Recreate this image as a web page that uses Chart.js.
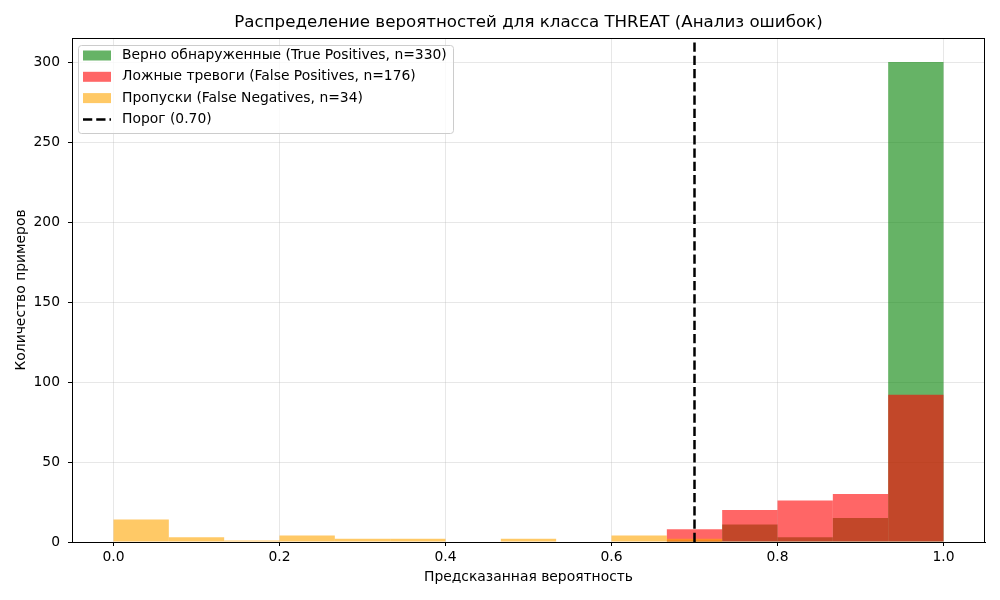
<!DOCTYPE html>
<html>
<head>
<meta charset="utf-8">
<script src="https://cdn.jsdelivr.net/npm/chart.js@4/dist/chart.umd.min.js"></script>
<style>
  html, body { margin: 0; padding: 0; background: #fff; }
  canvas { display: block; }
</style>
</head>
<body>
<canvas id="histChart" width="1000" height="600"></canvas>
<script>
// --- данные гистограммы (15 бинов от 0 до 1) ---
const binCount = 15;
const binCenters = Array.from({ length: binCount }, (_, i) => (i + 0.5) / binCount);
const truePositives  = [0, 0, 0, 0, 0, 0, 0, 0, 0, 0, 1, 11, 3, 15, 300];
const falsePositives = [0, 0, 0, 0, 0, 0, 0, 0, 0, 0, 8, 20, 26, 30, 92];
const falseNegatives = [14, 3, 1, 4, 2, 2, 0, 2, 0, 4, 2, 0, 0, 0, 0];
const threshold = 0.70;
const xTicks = [0, 0.2, 0.4, 0.6, 0.8, 1.0];
const yTicks = [0, 50, 100, 150, 200, 250, 300];

const seriesLabels = [
    'Верно обнаруженные (True Positives, n=330)',
    'Ложные тревоги (False Positives, n=176)',
    'Пропуски (False Negatives, n=34)',
    'Порог (0.70)'
];
const titleText = 'Распределение вероятностей для класса THREAT (Анализ ошибок)';
const xTitle = 'Предсказанная вероятность';
const yTitle = 'Количество примеров';

const FONT = '"DejaVu Sans", sans-serif';
const colors = {
    tp: 'rgba(0, 128, 0, 0.6)',
    fp: 'rgba(255, 0, 0, 0.6)',
    fn: 'rgba(255, 165, 0, 0.6)'
};

// пустые бины не рисуем
const toPoints = arr => arr.map((v, i) => ({ x: binCenters[i], y: v === 0 ? null : v }));

// рамка, заголовки и легенда
const decorPlugin = {
    id: 'decor',
    afterDraw(chart) {
        const { ctx, chartArea: a } = chart;
        ctx.save();
        ctx.strokeStyle = '#000';
        ctx.lineWidth = 1;
        ctx.strokeRect(a.left + 0.5, a.top + 0.5, a.right - a.left - 1, a.bottom - a.top);

        const cx = (a.left + a.right) / 2;
        ctx.fillStyle = '#000';
        ctx.textAlign = 'center';
        ctx.textBaseline = 'middle';
        ctx.font = '16.67px ' + FONT;
        ctx.fillText(titleText, cx, 23);
        ctx.font = '13.89px ' + FONT;
        ctx.fillText(xTitle, cx, 577);
        ctx.save();
        ctx.translate(21, (a.top + a.bottom) / 2);
        ctx.rotate(-Math.PI / 2);
        ctx.fillText(yTitle, 0, 0);
        ctx.restore();

        // легенда
        const lx = 78, ly = 45, lw = 375, lh = 88;
        ctx.fillStyle = 'rgba(255,255,255,0.8)';
        ctx.strokeStyle = 'rgba(204,204,204,1)';
        ctx.lineWidth = 1;
        ctx.beginPath();
        ctx.roundRect(lx + 0.5, ly + 0.5, lw, lh, 3);
        ctx.fill();
        ctx.stroke();
        const swatches = [colors.tp, colors.fp, colors.fn, null];
        ctx.textAlign = 'left';
        ctx.font = '13.89px ' + FONT;
        seriesLabels.forEach((label, i) => {
            const y = 55.5 + i * 21.3;
            if (swatches[i]) {
                ctx.fillStyle = swatches[i];
                ctx.fillRect(83, y - 5, 28, 10);
            } else {
                ctx.strokeStyle = '#000';
                ctx.lineWidth = 2.5;
                ctx.setLineDash([9.25, 4]);
                ctx.beginPath();
                ctx.moveTo(83, y);
                ctx.lineTo(111, y);
                ctx.stroke();
                ctx.setLineDash([]);
            }
            ctx.fillStyle = '#000';
            ctx.fillText(label, 122, y);
        });
        ctx.restore();
    }
};

new Chart(document.getElementById('histChart'), {
    type: 'bar',
    data: {
        datasets: [
            { label: seriesLabels[0], data: toPoints(truePositives), backgroundColor: colors.tp, order: 3 },
            { label: seriesLabels[1], data: toPoints(falsePositives), backgroundColor: colors.fp, order: 2 },
            { label: seriesLabels[2], data: toPoints(falseNegatives), backgroundColor: colors.fn, order: 1 },
            {
                type: 'line',
                label: seriesLabels[3],
                data: [{ x: threshold, y: 0 }, { x: threshold, y: 315 }],
                borderColor: '#000',
                borderWidth: 2.5,
                borderDash: [9.25, 4],
                pointRadius: 0,
                order: 0
            }
        ]
    },
    options: {
        responsive: false,
        animation: false,
        devicePixelRatio: 1,
        layout: { padding: { top: 38, right: 15, left: 0, bottom: 0 } },
        datasets: {
            bar: { barPercentage: 1, categoryPercentage: 1, grouped: false, borderWidth: 0, inflateAmount: 0 }
        },
        plugins: {
            legend: { display: false },
            title: { display: false },
            tooltip: { enabled: false }
        },
        scales: {
            x: {
                type: 'linear',
                min: -0.05,
                max: 1.05,
                offset: false,
                afterFit: s => { s.height = 58; },
                afterBuildTicks: s => { s.ticks = xTicks.map(v => ({ value: v })); },
                grid: { color: 'rgba(176,176,176,0.3)', tickColor: '#000', tickLength: 4, offset: false },
                border: { color: '#000' },
                ticks: {
                    padding: 3,
                    color: '#000',
                    font: { family: FONT, size: 13.89 },
                    maxRotation: 0,
                    callback: v => Number(v).toFixed(1)
                }
            },
            y: {
                min: 0,
                max: 315,
                afterFit: s => { s.width = 72; },
                afterBuildTicks: s => { s.ticks = yTicks.map(v => ({ value: v })); },
                grid: { color: 'rgba(176,176,176,0.3)', tickColor: '#000', tickLength: 4 },
                border: { color: '#000' },
                ticks: {
                    padding: 8,
                    color: '#000',
                    font: { family: FONT, size: 13.89 }
                }
            }
        }
    },
    plugins: [decorPlugin]
});
</script>
</body>
</html>
